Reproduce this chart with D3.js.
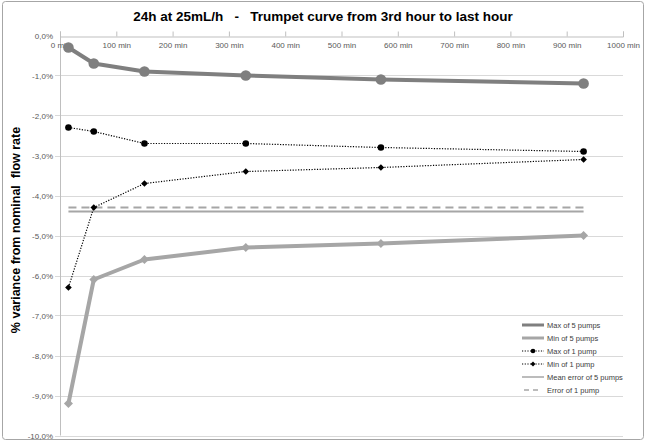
<!DOCTYPE html>
<html><head><meta charset="utf-8">
<script src="https://cdn.jsdelivr.net/npm/d3@7"></script>
<style>body{margin:0;background:#fff}svg{display:block;font-family:"Liberation Sans",Arial,sans-serif}</style>
</head><body><svg id="c" width="646" height="441"></svg>
<script>
const minutes = [15, 60, 150, 330, 570, 930];
const max5 = [-0.3, -0.7, -0.9, -1.0, -1.1, -1.2];
const min5 = [-9.2, -6.1, -5.6, -5.3, -5.2, -5.0];
const max1 = [-2.3, -2.4, -2.7, -2.7, -2.8, -2.9];
const min1 = [-6.3, -4.3, -3.7, -3.4, -3.3, -3.1];
const meanErr5 = [-4.4, -4.4, -4.4, -4.4, -4.4, -4.4];
const err1 = [-4.3, -4.3, -4.3, -4.3, -4.3, -4.3];
const xTicks = [0,100,200,300,400,500,600,700,800,900,1000];
const yTicks = [0,-1,-2,-3,-4,-5,-6,-7,-8,-9,-10];
const seriesNames = ["Max of 5 pumps","Min of 5 pumps","Max of 1 pump","Min of 1 pump","Mean error of 5 pumps","Error of 1 pump"];

const svg = d3.select("#c");
svg.append("rect").attr("x",2.5).attr("y",1.5).attr("width",641).attr("height",438).attr("rx",3)
  .attr("fill","#fff").attr("stroke","#a6a6a6");

const x = d3.scaleLinear().domain([0,1000]).range([60,623]);
const y = d3.scaleLinear().domain([0,-10]).range([35.5,435.5]);

// gridlines
svg.append("g").selectAll("line").data(yTicks.slice(1)).join("line")
  .attr("x1",55).attr("x2",623).attr("y1",d=>Math.round(y(d))+0.5).attr("y2",d=>Math.round(y(d))+0.5)
  .attr("stroke","#d9d9d9").attr("stroke-width",1);
// y axis line
svg.append("line").attr("x1",60.5).attr("x2",60.5).attr("y1",y(0)).attr("y2",y(-10)).attr("stroke","#bfbfbf");
// y tick labels
svg.append("g").selectAll("text").data(yTicks).join("text")
  .attr("x",53).attr("y",d=>y(d)+3).attr("text-anchor","end").attr("font-size",8).attr("fill","#595959")
  .text(d=>d3.format(".1f")(d).replace(".",",").replace("−","-")+"%");
// x axis at top
const xa = svg.append("g").attr("transform",`translate(0,${Math.round(y(0))+0.5})`)
  .call(d3.axisTop(x).tickValues(xTicks).tickSize(5).tickFormat(d=>d+" min"));
xa.select(".domain").attr("stroke","#bfbfbf");
xa.selectAll(".tick line").attr("stroke","#bfbfbf");
xa.selectAll(".tick text").attr("y",11).attr("dy",0).attr("font-size",8).attr("fill","#595959")
  .attr("font-family","Liberation Sans, Arial, sans-serif");

// title
svg.append("text").attr("x",323).attr("y",21).attr("text-anchor","middle").attr("font-size",13.5)
  .attr("font-weight","bold").attr("fill","#000").attr("xml:space","preserve")
  .text("24h at 25mL/h   -   Trumpet curve from 3rd hour to last hour");
// y title
svg.append("text").attr("transform","translate(20,230) rotate(-90)").attr("text-anchor","middle")
  .attr("font-size",12.5).attr("font-weight","bold").attr("xml:space","preserve")
  .text("% variance from nominal  flow rate");

const line = d3.line().x((d,i)=>x(minutes[i])).y(d=>y(d));
const square = d3.symbol().type(d3.symbolSquare);

// mean error & error of 1 pump
svg.append("path").attr("d",line(meanErr5)).attr("fill","none").attr("stroke","#a6a6a6").attr("stroke-width",2);
svg.append("path").attr("d",line(err1)).attr("fill","none").attr("stroke","#a6a6a6").attr("stroke-width",2).attr("stroke-dasharray","8,5");

// min of 5
svg.append("path").attr("d",line(min5)).attr("fill","none").attr("stroke","#a6a6a6").attr("stroke-width",4).attr("stroke-linejoin","round");
svg.append("g").selectAll("path").data(min5).join("path")
  .attr("transform",(d,i)=>`translate(${x(minutes[i])},${y(d)}) rotate(45)`).attr("d",square.size(40)()).attr("fill","#a6a6a6");
// max of 5
svg.append("path").attr("d",line(max5)).attr("fill","none").attr("stroke","#7f7f7f").attr("stroke-width",4).attr("stroke-linejoin","round");
svg.append("g").selectAll("circle").data(max5).join("circle")
  .attr("cx",(d,i)=>x(minutes[i])).attr("cy",d=>y(d)).attr("r",5.3).attr("fill","#7f7f7f");
// max of 1
svg.append("path").attr("d",line(max1)).attr("fill","none").attr("stroke","#000").attr("stroke-width",1.2).attr("stroke-dasharray","1.2,1.5");
svg.append("g").selectAll("circle").data(max1).join("circle")
  .attr("cx",(d,i)=>x(minutes[i])).attr("cy",d=>y(d)).attr("r",3.3).attr("fill","#000");
// min of 1
svg.append("path").attr("d",line(min1)).attr("fill","none").attr("stroke","#000").attr("stroke-width",1.2).attr("stroke-dasharray","1.2,1.5");
svg.append("g").selectAll("path").data(min1).join("path")
  .attr("transform",(d,i)=>`translate(${x(minutes[i])},${y(d)}) rotate(45)`).attr("d",square.size(22)()).attr("fill","#000");

// legend
const lg = svg.append("g").attr("transform","translate(522,325)");
const rowH = 13;
seriesNames.forEach((name,i)=>{
  const g = lg.append("g").attr("transform",`translate(0,${i*rowH})`);
  const l = g.append("line").attr("x1",0).attr("x2",22).attr("y1",0).attr("y2",0);
  if(i===0) l.attr("stroke","#7f7f7f").attr("stroke-width",3);
  if(i===1) l.attr("stroke","#a6a6a6").attr("stroke-width",3);
  if(i===2||i===3) l.attr("stroke","#000").attr("stroke-width",1.2).attr("stroke-dasharray","1.2,1.5");
  if(i===4) l.attr("stroke","#a6a6a6").attr("stroke-width",1.5);
  if(i===5) l.attr("stroke","#a6a6a6").attr("stroke-width",1.5).attr("stroke-dasharray","5,4").attr("x1",2).attr("x2",20);
  if(i===2) g.append("circle").attr("cx",11).attr("cy",0).attr("r",2.3).attr("fill","#000");
  if(i===3) g.append("path").attr("transform","translate(11,0) rotate(45)").attr("d",square.size(12)()).attr("fill","#000");
  g.append("text").attr("x",25).attr("y",3).attr("font-size",7.5).attr("fill","#404040").text(name);
});
</script></body></html>
